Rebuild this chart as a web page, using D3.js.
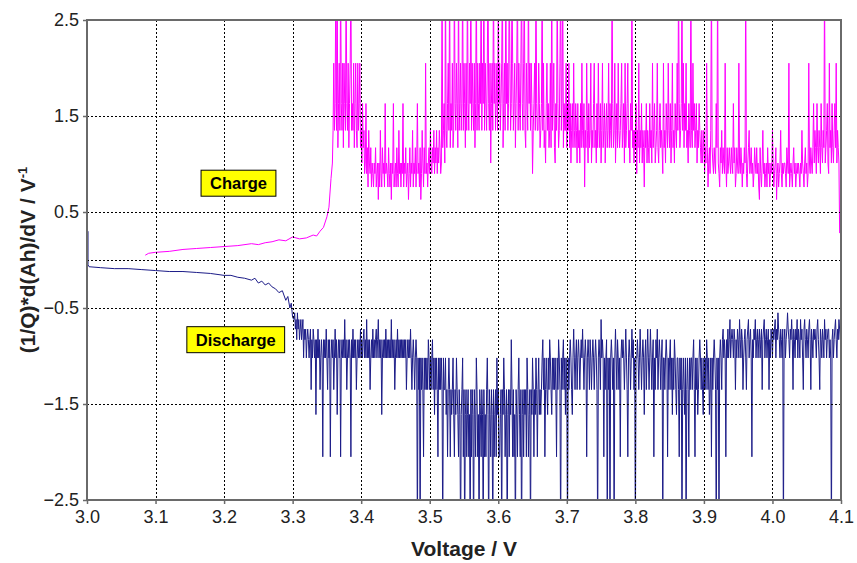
<!DOCTYPE html>
<html>
<head>
<meta charset="utf-8">
<script src="https://cdn.jsdelivr.net/npm/d3@7"></script>
<style>
  body { margin: 0; background: #fff; }
  text { font-family: Arial, "Liberation Sans", sans-serif; }
</style>
</head>
<body>
<svg id="chart" width="857" height="563"></svg>
<script>
// axis ticks
const xTicks = [3.0, 3.1, 3.2, 3.3, 3.4, 3.5, 3.6, 3.7, 3.8, 3.9, 4.0, 4.1];
const yTicks = [2.5, 1.5, 0.5, -0.5, -1.5, -2.5];
const yGrid = [1.5, 0.5, 0, -0.5, -1.5];

// charge: smooth part [V, value]
const chargeRamp = [
  [3.085, 0.05], [3.09, 0.07], [3.10, 0.08], [3.12, 0.09], [3.14, 0.11], [3.16, 0.12],
  [3.18, 0.13], [3.20, 0.14], [3.22, 0.15], [3.24, 0.17], [3.25, 0.16], [3.26, 0.18],
  [3.27, 0.19], [3.28, 0.21], [3.29, 0.20], [3.30, 0.24], [3.31, 0.22], [3.32, 0.23],
  [3.33, 0.26], [3.335, 0.25], [3.34, 0.30], [3.345, 0.34], [3.35, 0.45], [3.353, 0.55],
  [3.356, 0.85]
];
// charge: noisy part, one value every 1 mV from 3.358 V
const chargeStart = 3.358;
const step = 0.001;
const chargeNoisy = [
  1.01, 1.35, 2.05, 1.35, 1.63, 3.0, 1.35, 3.0, 1.17, 1.63, 2.05, 1.35, 3.0, 1.63, 1.35, 2.05, 1.17, 2.05, 1.63, 1.35,
  3.0, 1.63, 1.35, 2.05, 1.17, 1.63, 2.05, 3.0, 1.35, 1.63, 1.35, 2.05, 1.17, 1.63, 2.05, 1.35, 1.17, 2.05, 1.35, 1.63,
  2.05, 1.17, 1.35, 1.01, 1.63, 1.17, 1.35, 0.9, 1.01, 1.63, 0.9, 1.17, 0.76, 1.35, 1.01, 0.9, 1.17, 0.76, 1.01, 0.9,
  0.76, 1.01, 0.9, 1.17, 0.76, 0.9, 1.01, 0.63, 1.01, 0.76, 1.35, 0.9, 0.76, 1.17, 0.9, 1.01, 0.76, 1.63, 0.9, 1.01,
  0.9, 0.76, 1.17, 0.9, 0.76, 1.01, 0.63, 1.01, 0.9, 1.63, 0.76, 0.9, 1.01, 0.76, 1.17, 0.9, 0.76, 1.35, 0.9, 1.01,
  0.76, 1.01, 0.9, 1.63, 0.76, 1.01, 0.9, 1.17, 0.76, 0.9, 1.01, 0.63, 0.9, 1.17, 0.76, 1.01, 0.9, 1.35, 0.76, 1.01,
  0.9, 1.17, 0.76, 1.01, 1.63, 0.9, 1.01, 0.76, 1.17, 0.63, 0.9, 1.35, 1.01, 0.76, 1.17, 0.9, 2.05, 0.9, 1.01, 0.76,
  1.01, 1.17, 0.9, 1.35, 1.01, 0.9, 1.17, 1.01, 1.35, 0.9, 1.17, 1.01, 1.35, 0.9, 1.17, 1.01, 1.35, 1.17, 0.9, 1.01,
  3.0, 1.17, 1.35, 1.63, 1.01, 3.0, 1.35, 1.17, 1.63, 2.05, 1.35, 3.0, 1.17, 1.63, 1.35, 2.05, 1.17, 1.35, 3.0, 1.63,
  1.35, 2.05, 1.63, 1.17, 3.0, 1.35, 1.63, 2.05, 1.35, 1.63, 3.0, 1.35, 2.05, 1.63, 1.17, 2.05, 1.35, 3.0, 1.63, 1.35,
  2.05, 1.63, 3.0, 1.35, 2.05, 1.63, 1.35, 2.05, 1.17, 1.63, 3.0, 1.35, 2.05, 1.63, 1.35, 2.05, 1.63, 3.0, 1.35, 2.05,
  1.63, 3.0, 1.35, 2.05, 1.63, 1.35, 2.05, 3.0, 1.63, 1.35, 2.05, 1.01, 1.63, 2.05, 1.35, 3.0, 1.63, 2.05, 1.35, 1.63,
  2.05, 1.35, 3.0, 1.63, 2.05, 1.35, 1.63, 2.05, 3.0, 1.17, 1.63, 2.05, 1.35, 3.0, 1.63, 2.05, 1.35, 1.63, 3.0, 2.05,
  1.35, 1.63, 3.0, 2.05, 1.35, 1.63, 2.05, 1.17, 1.63, 2.05, 3.0, 1.35, 2.05, 1.63, 1.35, 2.05, 3.0, 1.63, 1.35, 2.05,
  3.0, 1.35, 1.17, 2.05, 1.63, 1.35, 3.0, 1.63, 2.05, 1.35, 2.05, 1.63, 0.9, 1.35, 1.63, 2.05, 1.35, 3.0, 1.63, 1.35,
  1.35, 2.05, 1.63, 1.17, 1.35, 1.63, 3.0, 1.35, 2.05, 1.17, 1.35, 1.01, 1.63, 2.05, 1.35, 1.63, 1.17, 1.35, 2.05, 1.17,
  3.0, 1.35, 1.63, 2.05, 1.17, 1.01, 1.63, 1.35, 3.0, 1.63, 1.17, 1.35, 2.05, 3.0, 1.35, 1.63, 3.0, 1.17, 1.63, 1.35,
  1.35, 2.05, 1.17, 1.63, 1.35, 2.05, 1.17, 1.63, 1.01, 1.35, 1.63, 1.17, 2.05, 1.35, 1.17, 1.63, 1.35, 1.01, 1.63, 1.17,
  1.35, 1.01, 1.63, 1.17, 2.05, 1.35, 1.17, 1.63, 0.76, 1.35, 1.17, 2.05, 1.35, 1.01, 1.63, 1.17, 1.35, 2.05, 1.01, 1.35,
  1.17, 1.63, 2.05, 1.17, 1.35, 1.01, 1.63, 1.17, 2.05, 1.35, 1.17, 1.63, 1.01, 1.35, 2.05, 1.17, 1.35, 1.63, 1.01, 1.35,
  1.63, 1.17, 1.35, 2.05, 1.17, 1.63, 1.35, 1.17, 3.0, 1.63, 1.17, 1.35, 2.05, 1.01, 1.35, 1.63, 1.17, 2.05, 1.35, 1.17,
  1.35, 1.63, 2.05, 1.17, 1.35, 1.63, 1.01, 2.05, 1.17, 1.35, 1.63, 2.05, 1.17, 1.35, 1.01, 1.63, 1.35, 3.0, 1.17, 1.35,
  1.01, 1.35, 1.17, 1.63, 0.9, 1.35, 1.17, 2.05, 1.01, 1.35, 1.17, 1.63, 1.01, 1.35, 1.17, 0.76, 1.35, 1.17, 1.63, 1.01,
  1.35, 1.17, 1.01, 1.63, 1.17, 1.35, 1.01, 2.05, 1.17, 1.35, 1.63, 1.01, 1.17, 1.35, 2.05, 1.17, 1.01, 1.35, 1.63, 1.17,
  1.35, 1.17, 0.9, 2.05, 1.17, 1.35, 1.01, 1.63, 1.35, 1.17, 2.05, 1.35, 1.17, 1.63, 1.01, 1.35, 2.05, 1.17, 1.35, 1.01,
  1.63, 1.35, 1.17, 2.05, 1.35, 3.0, 1.63, 1.17, 1.35, 1.63, 3.0, 1.35, 2.05, 1.17, 1.63, 1.35, 2.05, 1.17, 1.35, 1.01,
  1.63, 1.35, 1.17, 3.0, 1.35, 1.17, 2.05, 1.35, 1.63, 1.17, 1.35, 1.63, 1.01, 1.35, 1.17, 1.63, 1.35, 1.17, 1.01, 1.35,
  1.01, 1.17, 1.35, 0.9, 1.17, 1.01, 2.05, 1.17, 0.76, 1.01, 1.17, 0.9, 1.35, 3.0, 1.17, 1.01, 0.9, 1.17, 1.01, 0.9,
  1.63, 1.17, 3.0, 1.01, 0.9, 0.76, 1.17, 1.01, 1.35, 0.9, 1.17, 1.01, 0.9, 2.05, 1.01, 0.76, 1.17, 0.9, 1.01, 1.17,
  1.01, 0.9, 1.17, 1.01, 0.9, 1.63, 1.01, 1.17, 0.76, 0.9, 1.17, 1.01, 0.9, 2.05, 1.01, 0.9, 1.17, 1.01, 0.76, 1.01,
  0.9, 1.17, 1.01, 3.0, 0.9, 0.76, 1.01, 1.17, 1.35, 0.9, 1.01, 1.17, 0.9, 1.01, 0.76, 0.9, 1.17, 1.01, 0.9, 1.17,
  0.9, 1.01, 0.76, 0.63, 1.17, 0.9, 0.76, 1.01, 1.35, 0.9, 1.01, 0.76, 0.9, 1.01, 0.76, 1.17, 0.9, 1.01, 0.76, 0.9,
  1.01, 0.9, 1.35, 1.01, 0.76, 0.9, 1.01, 1.17, 0.63, 0.9, 1.01, 0.76, 0.9, 1.01, 1.35, 0.9, 0.76, 1.01, 0.9, 1.01,
  1.01, 0.9, 0.76, 1.17, 1.01, 0.9, 2.05, 0.76, 0.9, 1.01, 0.9, 0.76, 1.01, 1.17, 0.9, 1.01, 0.76, 0.9, 1.01, 0.9,
  1.01, 0.9, 0.76, 1.01, 0.9, 1.35, 1.01, 0.9, 0.76, 1.01, 1.17, 0.9, 1.01, 0.76, 0.9, 2.05, 1.01, 0.9, 1.17, 1.01,
  0.9, 1.17, 1.63, 1.01, 1.35, 1.17, 0.9, 1.63, 1.17, 1.01, 1.35, 1.17, 0.9, 1.63, 1.17, 1.01, 1.35, 1.17, 3.0, 1.01,
  1.17, 1.35, 1.63, 1.01, 0.9, 2.05, 1.17, 1.35, 1.01, 1.63, 1.17, 1.01, 1.35, 1.63, 1.17, 2.05, 1.01, 1.35, 1.17, 1.01,
  0.28
];

// discharge: smooth part [V, value]
const dischargeRamp = [
  [3.0015, 0.3], [3.0015, -0.05], [3.003, -0.07], [3.02, -0.08], [3.04, -0.09], [3.06, -0.09],
  [3.08, -0.10], [3.10, -0.11], [3.12, -0.12], [3.14, -0.12], [3.16, -0.13], [3.18, -0.14],
  [3.20, -0.16], [3.21, -0.16], [3.22, -0.18], [3.23, -0.19], [3.24, -0.21], [3.245, -0.19],
  [3.25, -0.24], [3.255, -0.22], [3.26, -0.26], [3.265, -0.24], [3.27, -0.28], [3.275, -0.30],
  [3.28, -0.34], [3.285, -0.32], [3.29, -0.42], [3.293, -0.38], [3.296, -0.5], [3.298, -0.45],
  [3.30, -0.6]
];
// discharge: noisy part, one value every 1 mV from 3.302 V
const dischargeStart = 3.302;
const dischargeNoisy = [
  -0.62, -0.55, -0.72, -0.62, -0.83, -0.55, -0.72, -0.62, -0.83, -0.72, -0.62, -0.83, -0.72, -0.62, -1.02, -0.72, -0.83, -0.72, -1.02, -0.83,
  -0.72, -0.83, -1.02, -0.83, -0.72, -1.35, -0.83, -1.02, -0.72, -0.83, -1.02, -0.83, -1.61, -0.83, -1.02, -0.72, -1.02, -0.83, -1.35, -1.02,
  -0.83, -1.02, -2.05, -0.83, -1.02, -0.83, -1.02, -0.72, -1.02, -1.35, -0.83, -1.02, -0.83, -2.05, -1.02, -0.83, -1.02, -0.83, -1.35, -1.02,
  -0.72, -1.02, -0.83, -1.61, -1.02, -0.83, -1.02, -0.83, -2.05, -1.02, -0.83, -1.02, -0.83, -1.02, -0.62, -1.02, -0.83, -1.35, -1.02, -0.83,
  -1.02, -0.83, -1.02, -2.05, -0.83, -1.02, -0.72, -1.02, -0.83, -1.02, -0.83, -1.35, -1.02, -0.83, -1.02, -0.83, -1.02, -0.72, -1.02, -0.83,
  -1.02, -0.83, -0.72, -1.02, -0.83, -1.02, -0.62, -1.02, -0.83, -1.02, -0.83, -1.35, -1.02, -0.83, -1.02, -0.72, -1.02, -0.83, -1.02, -0.83,
  -0.72, -1.02, -0.83, -0.62, -1.02, -0.83, -1.02, -0.83, -1.61, -1.02, -0.83, -1.02, -0.83, -1.02, -0.72, -1.02, -0.83, -1.02, -0.83, -1.02,
  -0.83, -1.02, -0.62, -1.02, -0.83, -1.02, -0.83, -1.35, -1.02, -0.83, -1.02, -0.72, -1.02, -0.83, -1.02, -0.83, -1.02, -0.83, -1.02, -0.83,
  -1.02, -0.83, -1.02, -0.83, -1.35, -1.02, -0.83, -1.02, -0.83, -1.02, -0.72, -1.02, -1.35, -1.02, -0.83, -1.02, -1.35, -1.02, -0.83, -1.02,
  -3.0, -1.02, -1.35, -1.02, -3.0, -1.02, -1.35, -1.02, -1.35, -2.05, -1.02, -1.35, -1.02, -1.35, -1.02, -1.35, -0.83, -1.02, -1.35, -1.02,
  -1.35, -1.02, -0.83, -1.35, -1.02, -1.61, -1.02, -1.35, -1.02, -1.35, -2.05, -1.02, -1.35, -1.02, -1.35, -1.02, -1.35, -3.0, -1.02, -1.35,
  -1.35, -1.02, -1.61, -1.35, -2.05, -1.35, -1.02, -1.35, -2.05, -1.35, -1.61, -1.35, -1.02, -1.61, -2.05, -1.35, -1.61, -1.02, -1.35, -1.61,
  -2.05, -1.35, -1.61, -3.0, -1.61, -1.35, -1.02, -2.05, -1.35, -3.0, -1.61, -1.35, -2.05, -1.61, -1.35, -2.05, -1.61, -3.0, -1.35, -2.05,
  -1.35, -1.61, -3.0, -1.35, -1.61, -2.05, -1.02, -1.35, -2.05, -1.61, -3.0, -1.35, -1.61, -2.05, -1.35, -1.61, -3.0, -1.35, -2.05, -1.61,
  -2.05, -1.35, -1.02, -1.61, -3.0, -1.35, -1.61, -2.05, -1.35, -1.61, -3.0, -1.35, -2.05, -1.61, -1.35, -2.05, -1.02, -1.61, -1.35, -2.05,
  -2.05, -1.61, -1.35, -3.0, -1.35, -1.61, -1.02, -1.35, -2.05, -1.61, -1.35, -3.0, -1.61, -1.35, -2.05, -1.35, -1.61, -0.83, -1.35, -2.05,
  -1.35, -2.05, -1.61, -3.0, -1.35, -1.61, -2.05, -1.35, -1.02, -1.61, -2.05, -1.35, -3.0, -1.61, -1.35, -2.05, -1.35, -1.61, -1.35, -2.05,
  -1.02, -1.35, -2.05, -1.61, -1.35, -3.0, -1.35, -1.61, -1.02, -1.35, -2.05, -1.35, -1.61, -1.02, -1.35, -2.05, -1.35, -1.02, -1.61, -1.35,
  -1.61, -1.35, -1.02, -0.83, -1.35, -1.02, -2.05, -1.35, -1.02, -1.35, -1.61, -1.02, -1.35, -0.83, -1.02, -1.35, -1.61, -1.02, -1.35, -1.02,
  -1.35, -1.02, -1.35, -2.05, -1.02, -1.35, -0.83, -1.02, -1.35, -3.0, -1.02, -1.35, -1.02, -0.83, -1.35, -1.02, -1.61, -1.02, -1.35, -3.0,
  -1.02, -1.35, -1.02, -0.83, -1.02, -1.35, -1.61, -1.02, -0.72, -1.02, -1.35, -1.02, -0.83, -1.35, -1.02, -0.83, -1.02, -1.35, -1.02, -0.83,
  -1.02, -0.72, -1.02, -1.35, -1.02, -0.83, -1.02, -2.05, -1.02, -0.83, -1.02, -1.35, -0.83, -1.02, -1.35, -1.02, -0.83, -1.02, -1.35, -1.02,
  -0.83, -1.02, -1.35, -3.0, -1.02, -0.83, -1.02, -1.35, -0.62, -1.02, -0.83, -1.02, -2.05, -1.02, -1.35, -1.02, -0.83, -3.0, -1.02, -1.35,
  -1.02, -3.0, -1.02, -0.83, -1.02, -1.35, -1.02, -3.0, -1.02, -0.72, -1.02, -1.35, -0.83, -1.02, -1.35, -1.02, -2.05, -1.02, -0.83, -1.02,
  -0.83, -1.02, -1.35, -1.02, -0.72, -1.02, -1.35, -2.05, -1.02, -0.83, -1.02, -1.35, -1.02, -0.72, -1.02, -0.83, -1.35, -1.02, -3.0, -1.02,
  -1.02, -0.83, -1.02, -1.35, -1.02, -0.72, -1.02, -1.35, -1.02, -0.83, -1.02, -1.61, -1.02, -0.83, -1.35, -1.02, -0.72, -1.02, -1.35, -1.02,
  -0.72, -1.02, -1.35, -1.02, -0.83, -2.05, -1.02, -1.35, -0.83, -1.02, -0.72, -1.35, -1.02, -0.83, -1.02, -1.35, -1.02, -0.83, -3.0, -1.02,
  -1.02, -1.35, -1.02, -0.83, -1.02, -2.05, -1.02, -1.35, -1.02, -0.83, -1.35, -1.02, -1.61, -1.02, -1.35, -0.83, -1.02, -1.35, -1.61, -1.02,
  -1.02, -1.35, -2.05, -1.02, -1.35, -1.02, -3.0, -1.35, -1.02, -1.35, -1.61, -1.02, -3.0, -1.35, -1.02, -1.35, -2.05, -1.02, -1.35, -1.02,
  -1.02, -1.35, -1.02, -0.83, -1.35, -2.05, -1.02, -1.35, -1.02, -1.61, -1.35, -1.02, -0.83, -1.02, -1.35, -1.02, -1.35, -1.61, -1.02, -1.35,
  -1.02, -1.35, -0.83, -1.02, -1.35, -1.02, -1.61, -1.35, -1.02, -2.05, -1.02, -1.35, -1.02, -0.83, -1.02, -1.35, -3.0, -1.02, -1.35, -1.02,
  -3.0, -1.02, -0.83, -1.02, -1.35, -0.83, -0.72, -1.02, -0.83, -1.02, -2.05, -0.83, -1.02, -0.72, -1.02, -0.83, -0.62, -1.02, -0.83, -0.72,
  -0.83, -1.02, -0.72, -0.83, -1.35, -0.83, -1.02, -0.72, -0.83, -1.02, -0.62, -0.83, -1.02, -0.72, -0.83, -1.35, -1.02, -0.83, -0.72, -1.02,
  -1.35, -0.83, -0.72, -0.62, -1.02, -0.83, -0.72, -1.02, -2.05, -0.83, -1.02, -0.72, -0.83, -0.62, -1.02, -0.83, -0.72, -1.02, -0.83, -0.72,
  -1.02, -0.83, -0.72, -1.35, -0.83, -0.72, -0.62, -1.02, -0.83, -0.72, -1.02, -0.83, -0.72, -1.35, -0.83, -1.02, -0.72, -0.83, -1.02, -0.72,
  -0.83, -0.72, -0.62, -1.02, -0.72, -0.83, -0.55, -0.72, -0.83, -1.02, -0.72, -0.83, -1.02, -0.72, -3.0, -0.83, -0.72, -1.02, -0.83, -0.72,
  -0.55, -0.72, -0.83, -1.02, -0.72, -0.83, -0.62, -0.83, -1.35, -0.72, -0.83, -1.02, -0.72, -0.83, -0.62, -1.02, -0.72, -0.83, -1.02, -0.62,
  -0.83, -0.72, -1.02, -1.35, -0.72, -0.62, -0.83, -1.02, -0.72, -0.83, -1.02, -0.72, -0.62, -0.83, -1.35, -0.72, -0.83, -1.02, -0.72, -0.83,
  -0.72, -0.83, -1.02, -0.72, -0.62, -0.83, -1.02, -1.35, -0.72, -0.83, -1.02, -0.72, -0.83, -1.02, -0.62, -0.83, -0.72, -1.02, -0.83, -0.72,
  -0.72, -1.02, -0.83, -1.02, -3.0, -0.83, -0.72, -1.02, -0.83, -0.72, -0.62, -0.83, -1.02, -0.72, -0.83, -0.62, -0.72, -0.83, -0.62, -0.72
];

// text boxes on the plot, anchored in data coordinates
const labels = [
  { text: "Charge", v: 3.221, val: 0.8 },
  { text: "Discharge", v: 3.217, val: -0.83 }
];

const width = 857, height = 563;
const margin = { top: 20, right: 16, bottom: 63, left: 87 };

const svg = d3.select("#chart");

const x = d3.scaleLinear().domain([3.0, 4.1]).range([margin.left, width - margin.right]);
const y = d3.scaleLinear().domain([-2.5, 2.5]).range([height - margin.bottom, margin.top]);

const charge = chargeRamp.concat(chargeNoisy.map((d, i) => [chargeStart + i * step, d]));
const discharge = dischargeRamp.concat(dischargeNoisy.map((d, i) => [dischargeStart + i * step, d]));

svg.append("defs").append("clipPath").attr("id", "plotclip")
   .append("rect")
   .attr("x", margin.left).attr("y", margin.top)
   .attr("width", x(4.1) - x(3.0)).attr("height", y(-2.5) - y(2.5));

const line = d3.line().x(d => x(d[0])).y(d => y(d[1]));

const plot = svg.append("g").attr("clip-path", "url(#plotclip)");

plot.append("path")
    .datum(discharge)
    .attr("fill", "none")
    .attr("stroke", "#1c1c88")
    .attr("stroke-width", 1)
    .attr("d", line);

plot.append("path")
    .datum(charge)
    .attr("fill", "none")
    .attr("stroke", "#ff00ff")
    .attr("stroke-width", 1)
    .attr("d", line);

// grid
const grid = svg.append("g");
grid.selectAll(".vgrid")
    .data(xTicks.slice(1, -1))
    .enter().append("line")
    .attr("x1", d => Math.round(x(d)) + 0.5).attr("x2", d => Math.round(x(d)) + 0.5)
    .attr("y1", y(2.5)).attr("y2", y(-2.5))
    .attr("stroke", "#000").attr("stroke-width", 1).attr("stroke-dasharray", "2,2");
grid.selectAll(".hgrid")
    .data(yGrid)
    .enter().append("line")
    .attr("x1", x(3.0)).attr("x2", x(4.1))
    .attr("y1", d => Math.round(y(d)) + 0.5).attr("y2", d => Math.round(y(d)) + 0.5)
    .attr("stroke", "#000").attr("stroke-width", 1).attr("stroke-dasharray", "2,2");

// frame
svg.append("rect")
   .attr("x", x(3.0)).attr("y", y(2.5))
   .attr("width", x(4.1) - x(3.0)).attr("height", y(-2.5) - y(2.5))
   .attr("fill", "none").attr("stroke", "#6a6a6a").attr("stroke-width", 2);

// axes
const xAxis = svg.append("g")
   .attr("transform", `translate(0,${y(-2.5)})`)
   .call(d3.axisBottom(x).tickValues(xTicks).tickFormat(d3.format(".1f")).tickSize(4).tickPadding(6));
const yAxis = svg.append("g")
   .attr("transform", `translate(${x(3.0)},0)`)
   .call(d3.axisLeft(y).tickValues(yTicks).tickFormat(d3.format(".1f")).tickSize(4).tickPadding(4));
[xAxis, yAxis].forEach(a => {
  a.select(".domain").remove();
  a.selectAll(".tick line").attr("stroke", "#6a6a6a").attr("stroke-width", 1.5);
  a.selectAll(".tick text").attr("fill", "#222").style("font-size", "18px")
   .style("font-family", "Arial, 'Liberation Sans', sans-serif");
});

// axis titles
svg.append("text")
   .attr("x", (x(3.0) + x(4.1)) / 2).attr("y", 556)
   .attr("text-anchor", "middle")
   .style("font-size", "21px").style("font-weight", "bold").attr("fill", "#222")
   .text("Voltage / V");

const yTitle = svg.append("text")
   .attr("transform", `translate(35,${(y(2.5) + y(-2.5)) / 2}) rotate(-90)`)
   .attr("text-anchor", "middle")
   .style("font-size", "21px").style("font-weight", "bold").attr("fill", "#222");
yTitle.append("tspan").text("(1/Q)*d(Ah)/dV / V");
yTitle.append("tspan").attr("dy", -8).style("font-size", "13px").text("-1");

// labels
labels.forEach(l => {
  const g = svg.append("g").attr("transform", `translate(${x(l.v)},${y(l.val)})`);
  const t = g.append("text")
     .attr("text-anchor", "middle").attr("dy", "0.36em")
     .style("font-size", "16.5px").style("font-weight", "bold").attr("fill", "#000")
     .text(l.text);
  const bb = t.node().getBBox();
  g.insert("rect", "text")
   .attr("x", bb.x - 9).attr("y", -13)
   .attr("width", bb.width + 18).attr("height", 26)
   .attr("fill", "#ffff00").attr("stroke", "#000").attr("stroke-width", 1);
});
</script>
</body>
</html>
